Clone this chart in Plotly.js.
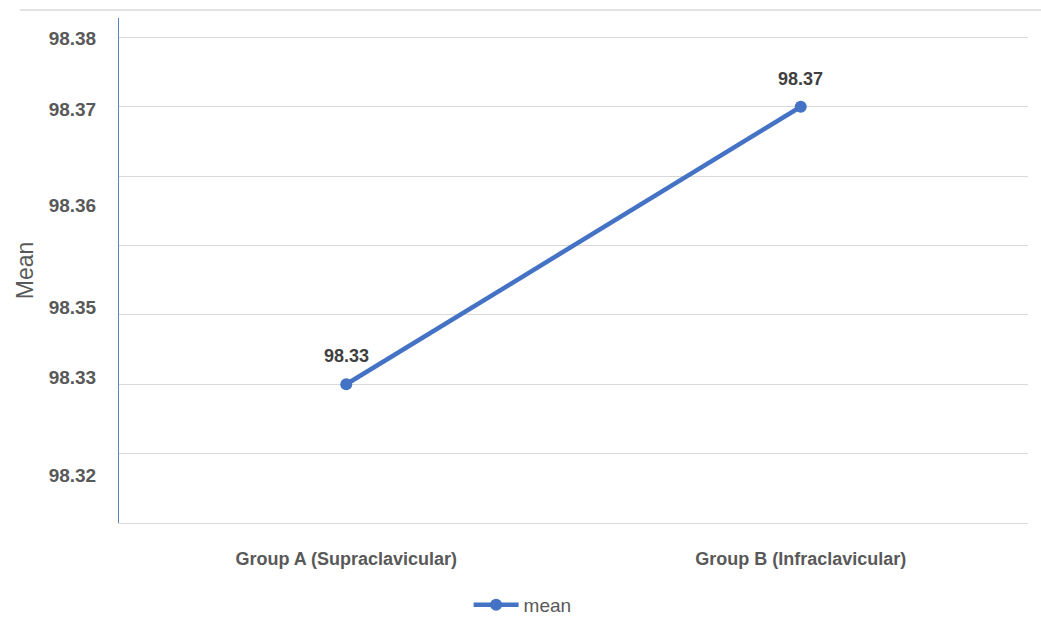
<!DOCTYPE html>
<html>
<head>
<meta charset="utf-8">
<script src="https://cdn.plot.ly/plotly-3.0.1.min.js"></script>
<style>html,body{margin:0;padding:0;background:#fff;}#chart{width:1041px;height:635px;}</style>
</head>
<body>
<div id="chart"></div>
<script>
// Data
const categories = ['Group A (Supraclavicular)', 'Group B (Infraclavicular)'];
const meanValues = [98.33, 98.37];
const seriesName = 'mean';
// Y tick labels as printed in the reference, at the heights where they appear
const yTickPositions = [98.3798, 98.3696, 98.3558, 98.3411, 98.3310, 98.3169];
const yTickLabels = ['98.38', '98.37', '98.36', '98.35', '98.33', '98.32'];

const blue = '#4472C4';
const grayText = '#595959';
const FONT = 'Liberation Sans, Arial, sans-serif';
const yRange = [98.31, 98.3828];

const trace = {
  x: categories,
  y: meanValues,
  name: seriesName,
  type: 'scatter',
  mode: 'lines+markers',
  line: {color: blue, width: 4.5},
  marker: {color: blue, size: 12},
  cliponaxis: false,
  hoverinfo: 'x+y'
};
// invisible trace to drive the gridline axis
const gridTrace = {
  x: categories, y: meanValues, yaxis: 'y2', type: 'scatter', mode: 'none',
  showlegend: false, hoverinfo: 'skip'
};

const dataLabels = categories.map((c, i) => ({
  x: c, y: meanValues[i], xref: 'x', yref: 'y',
  text: meanValues[i].toFixed(2), showarrow: false, yshift: 28,
  font: {family: FONT, size: 18, color: '#404040', weight: 'bold'}
}));

const layout = {
  width: 1041, height: 635,
  margin: {l: 119, r: 13, t: 18, b: 111},
  paper_bgcolor: '#ffffff', plot_bgcolor: '#ffffff',
  showlegend: true,
  legend: {
    orientation: 'h', x: 0.444, xanchor: 'center', y: -0.16, yanchor: 'middle',
    font: {family: FONT, size: 19, color: grayText},
    itemwidth: 45
  },
  xaxis: {
    type: 'category', range: [-0.5, 1.5],
    showgrid: false, zeroline: false, showline: true, linecolor: '#d9d9d9', linewidth: 1, ticks: '',
    tickfont: {family: FONT, size: 18, color: grayText, weight: 'bold'},
    ticklabelstandoff: 19
  },
  yaxis: {
    range: yRange, tickmode: 'array', tickvals: yTickPositions, ticktext: yTickLabels,
    showgrid: false, zeroline: false, showline: true, linecolor: '#5b7fc4', linewidth: 1,
    ticks: '', ticklabelstandoff: 18,
    tickfont: {family: FONT, size: 19, color: grayText, weight: 'bold'},
    title: {text: 'Mean', standoff: 8, font: {family: FONT, size: 23, color: grayText}}
  },
  yaxis2: {
    overlaying: 'y', range: yRange, tick0: 98.31, dtick: 0.01,
    showgrid: true, gridcolor: '#d9d9d9', gridwidth: 1,
    showticklabels: false, zeroline: false, showline: false, ticks: ''
  },
  annotations: dataLabels,
  shapes: [{
    type: 'line', xref: 'paper', yref: 'paper',
    x0: -0.109, x1: 1.0143, y0: 1.0158, y1: 1.0158,
    line: {color: '#d9d9d9', width: 1.5}
  }]
};

Plotly.newPlot('chart', [gridTrace, trace], layout, {displayModeBar: false, staticPlot: true});
</script>
</body>
</html>
